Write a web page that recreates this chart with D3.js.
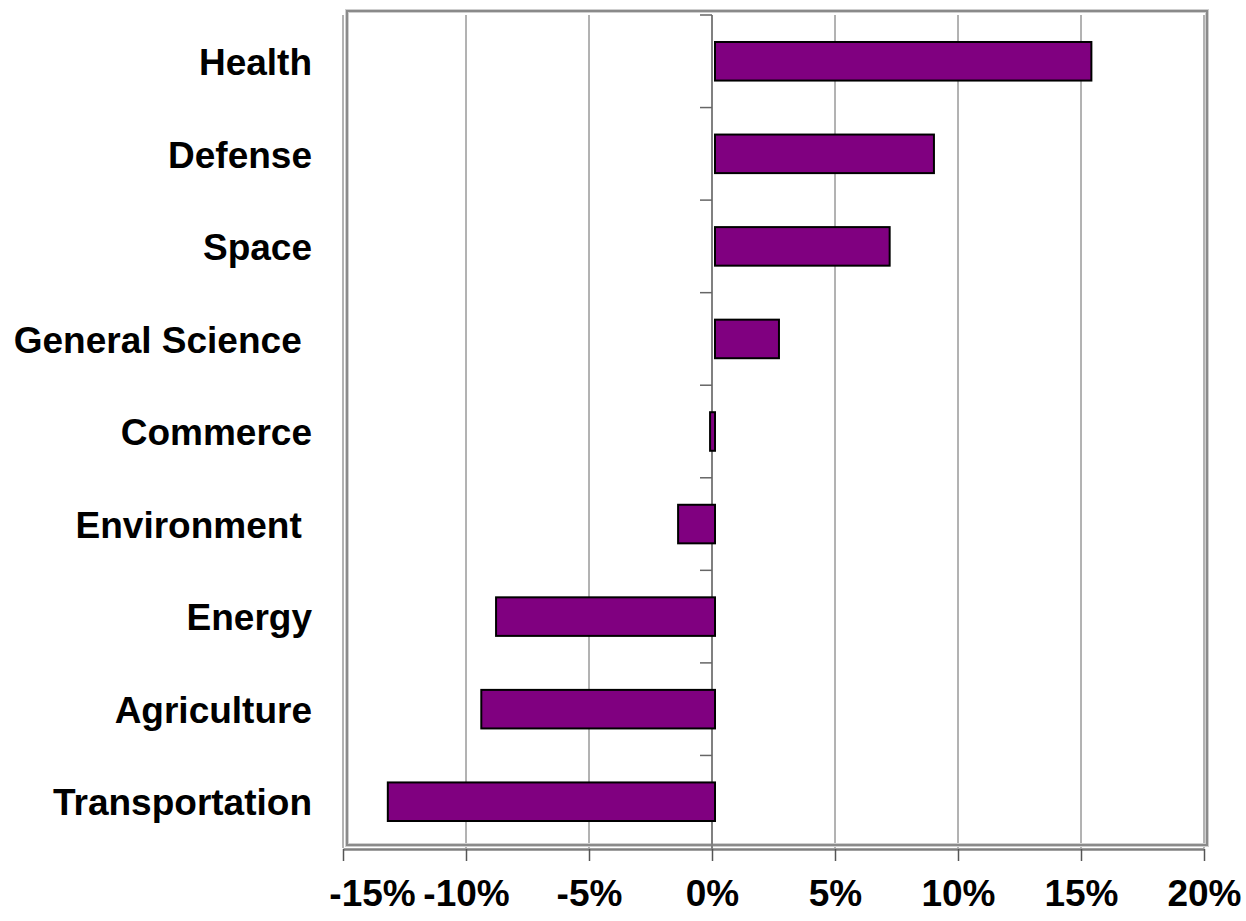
<!DOCTYPE html>
<html>
<head>
<meta charset="utf-8">
<script src="https://cdn.jsdelivr.net/npm/d3@7"></script>
<style>
  body { margin: 0; background: #fff; }
  text { font-family: "Liberation Sans", Arial, sans-serif; font-weight: bold; fill: #000; }
</style>
</head>
<body>
<div id="viz"></div>
<script>
// category names (two of them carry a trailing space, as in the original)
var categories = ["Health", "Defense", "Space", "General Science ", "Commerce",
                  "Environment ", "Energy", "Agriculture", "Transportation"];
// change, as a fraction
var values = [0.153, 0.089, 0.071, 0.026, -0.002, -0.015, -0.089, -0.095, -0.133];
var tickVals = [-0.15, -0.10, -0.05, 0, 0.05, 0.10, 0.15, 0.20];
var tickLabels = ["-15%", "-10%", "-5%", "0%", "5%", "10%", "15%", "20%"];

var W = 1246, H = 921;
var plotTop = 15, plotBottom = 848;
var barShift = 3;   // bars sit a few pixels right of the drawn zero line

var svg = d3.select("#viz").append("svg")
    .attr("width", W).attr("height", H);

var x = d3.scaleLinear().domain([-0.15, 0.20]).range([343, 1204]);
var y = d3.scaleBand().domain(categories).range([plotTop, plotBottom])
    .paddingInner(1.4 / 2.4).paddingOuter(0.7 / 2.4);

// gridlines
svg.append("g").selectAll("line")
    .data(tickVals.filter(function(d) { return d != 0; }))
    .enter().append("line")
    .attr("x1", function(d) { return x(d); })
    .attr("x2", function(d) { return x(d); })
    .attr("y1", plotTop).attr("y2", plotBottom)
    .attr("stroke", "#666").attr("stroke-width", 1);

// plot frame
svg.append("rect")
    .attr("x", 347).attr("y", 11).attr("width", 860).attr("height", 834)
    .attr("fill", "none").attr("stroke", "#cfcfcf").attr("stroke-width", 4);
svg.append("rect")
    .attr("x", 347).attr("y", 11).attr("width", 860).attr("height", 834)
    .attr("fill", "none").attr("stroke", "#8a8a8a").attr("stroke-width", 2);

// zero line with category ticks on the band boundaries
var half = (y.step() - y.bandwidth()) / 2;
var bounds = categories.map(function(c) { return y(c) - half; });
var zero = svg.append("g");
zero.append("line")
    .attr("x1", x(0)).attr("x2", x(0))
    .attr("y1", plotTop).attr("y2", plotBottom + 1)
    .attr("stroke", "#808080").attr("stroke-width", 2);
zero.selectAll(".ctick").data(bounds).enter().append("line")
    .attr("class", "ctick")
    .attr("x1", x(0) - 12).attr("x2", x(0))
    .attr("y1", function(d) { return d; }).attr("y2", function(d) { return d; })
    .attr("stroke", "#666").attr("stroke-width", 1.5);

// bars
svg.append("g").selectAll("rect")
    .data(values)
    .enter().append("rect")
    .attr("x", function(d) { return x(Math.min(0, d)) + barShift; })
    .attr("y", function(d, i) { return y(categories[i]); })
    .attr("width", function(d) { return Math.abs(x(d) - x(0)); })
    .attr("height", y.bandwidth())
    .attr("fill", "#800080")
    .attr("stroke", "#000").attr("stroke-width", 2);

// category labels
svg.append("g").selectAll("text")
    .data(categories)
    .enter().append("text")
    .attr("x", 312)
    .attr("y", function(d) { return y(d) + y.bandwidth() / 2; })
    .attr("dy", "0.37em")
    .attr("text-anchor", "end")
    .style("white-space", "pre")
    .style("font-size", "37px")
    .text(function(d) { return d; });

// bottom axis
var xAxis = d3.axisBottom(x)
    .tickValues(tickVals)
    .tickFormat(function(d, i) { return tickLabels[i]; })
    .tickSize(12).tickSizeOuter(0).tickPadding(19);
var ax = svg.append("g")
    .attr("transform", "translate(0," + 849 + ")")
    .call(xAxis);
ax.select(".domain").attr("stroke", "#808080").attr("stroke-width", 2.5);
ax.selectAll(".tick line").attr("stroke", "#555").attr("stroke-width", 1.5);
ax.selectAll(".tick text")
    .attr("font-family", null).attr("fill", "#000")
    .attr("dx", function(d, i) { return i == 0 ? 29 : 0; })  // first label pushed inside, as in the original
    .style("font-size", "37px");
</script>
</body>
</html>
